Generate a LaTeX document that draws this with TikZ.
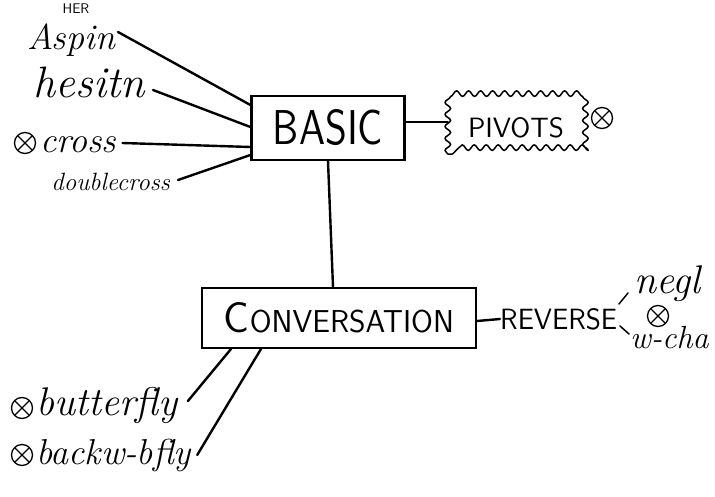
\documentclass[tikz,border=0pt]{standalone}
\usepackage{fontspec}
\usetikzlibrary{decorations.pathmorphing}
\newcommand\hsz[1]{\fontsize{#1}{#1}\selectfont}
\begin{document}
\begin{tikzpicture}[x=1pt,y=-1pt,
  ink/.style={line width=2.4pt, line cap=round},
  thin ink/.style={line width=1.5pt, line cap=round},
  boxnode/.style={draw, line width=2.2pt, inner sep=0pt},
  cursive/.style={inner sep=0pt},
  caps/.style={inner sep=0pt, font=\sffamily},
  xo/.style={circle, draw, line width=1.3pt, minimum size=21pt, inner sep=0pt,
    path picture={\draw[line width=1.3pt]
      (path picture bounding box.north west) -- (path picture bounding box.south east)
      (path picture bounding box.north east) -- (path picture bounding box.south west);}},
  cloudnode/.style={inner sep=0pt, minimum width=136pt, minimum height=52pt},
  cloudline/.style={line width=1.5pt, line join=round, decorate,
    decoration={snake, amplitude=2.8pt, segment length=12pt}}
]
\useasboundingbox (0,0) rectangle (715,497);
\fill[white] (0,0) rectangle (715,497);
\clip (0,0) rectangle (715,497);

% main boxes
\node[boxnode, minimum width=153pt, minimum height=64pt, font=\sffamily] (basic) at (328,128)
  {\resizebox{110pt}{35pt}{BASIC}};
\node[boxnode, minimum width=274pt, minimum height=60pt, font=\sffamily] (conv) at (339,318)
  {\resizebox{230pt}{30pt}{{\hsz{30}C}{\hsz{22}ONVERSATION}}};
\node[cloudnode, font=\sffamily] (pivots) at (516,128) {\resizebox{96pt}{20pt}{PIVOTS}};
\draw[cloudline] (pivots.south west) rectangle (pivots.north east);
\node[xo] (px) at (602,118) {};

% left labels of BASIC
\node[cursive, anchor=east, font=\itshape\hsz{36}] (aspin) at (115,40) {Aspin};
\node[caps, font=\sffamily\hsz{14}] (her) at (76,9) {HER};
\node[cursive, anchor=east, font=\itshape\hsz{44}] (hesitn) at (145,82) {hesitn};
\node[xo] (cx) at (25,143) {};
\node[cursive, anchor=west, font=\itshape\hsz{36}] (cross) at (40,145) {cross};
\node[cursive, anchor=east, font=\itshape\hsz{25}] (dcross) at (170,182) {doublecross};

\draw[ink] ([xshift=3pt,yshift=8pt]aspin.east) -- ([yshift=23pt]basic.west);
\draw[ink] ([xshift=8pt,yshift=-8pt]hesitn.east) -- ([yshift=1pt]basic.west);
\draw[ink] ([xshift=6pt,yshift=2pt]cross.east) -- ([yshift=-19pt]basic.west);
\draw[ink] ([xshift=8pt,yshift=2pt]dcross.east) -- ([yshift=-27pt]basic.west);

% BASIC connections
\draw[ink] (basic.south) -- ([xshift=-6pt]conv.north);
\draw[ink] ([yshift=6pt]basic.east) -- ([yshift=6pt]pivots.west);

% REVERSE branch
\node[caps, anchor=west] (reverse) at (500,319) {\resizebox{117pt}{21pt}{REVERSE}};
\draw[ink] ([yshift=-3pt]conv.east) -- (reverse.west);
\node[cursive, anchor=south west, font=\itshape\hsz{40}] (negl) at (634,302) {negl};
\node[cursive, anchor=north west, font=\itshape\hsz{32}] (wcha) at (630,326) {w-cha};
\node[xo] (rx) at (658,316) {};
\coordinate (t1a) at (619,304);
\coordinate (t1b) at (628,293);
\coordinate (t2a) at (620,326);
\coordinate (t2b) at (629,334);
\draw[thin ink] (t1a) -- (t1b);
\draw[thin ink] (t2a) -- (t2b);

% butterfly branch
\node[xo] (bx) at (22,408) {};
\node[cursive, anchor=west, font=\itshape\hsz{40}] (bfly) at (36,405) {butterfly};
\node[xo] (bbx) at (22,455) {};
\node[cursive, anchor=west, font=\itshape\hsz{36}] (bbfly) at (36,455) {backw-bfly};
\draw[ink] ([xshift=30pt]conv.south west) -- ([xshift=10pt,yshift=4pt]bfly.east);
\draw[ink] ([xshift=60pt]conv.south west) -- ([xshift=6pt]bbfly.east);
\end{tikzpicture}
\end{document}
